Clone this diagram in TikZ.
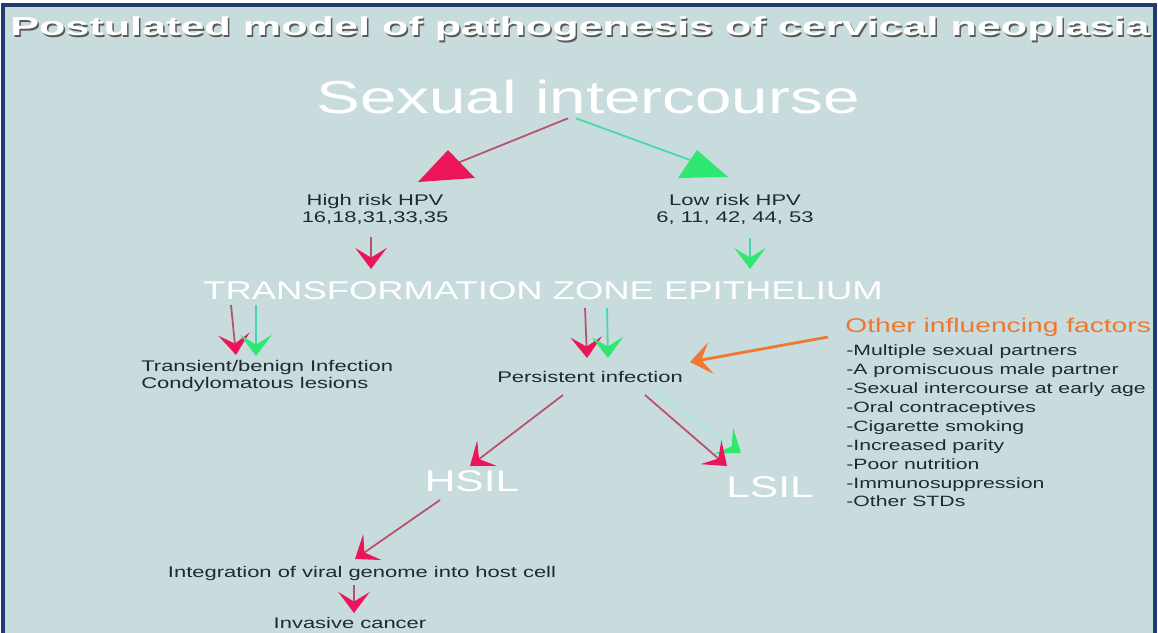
\documentclass[tikz,border=0pt]{standalone}
\usepackage{fontspec}
\setmainfont{Liberation Sans}[FakeStretch=1.42]
\newfontfamily\titlefont{Liberation Sans}[FakeStretch=1.66]
\usetikzlibrary{arrows.meta}

\definecolor{slide}{HTML}{C9DCDD}
\definecolor{framecol}{HTML}{1F3B70}
\definecolor{hotred}{HTML}{EC1559}
\definecolor{hotgreen}{HTML}{2EE872}
\definecolor{redline}{HTML}{B8506E}
\definecolor{greenline}{HTML}{45D9A8}
\definecolor{orangey}{HTML}{F0772F}
\definecolor{ink}{HTML}{1E2A30}

\tikzset{
  smalltext/.style={text=ink, inner sep=0pt, align=center,
    font=\fontsize{8.8}{9.7}\selectfont},
  whitetext/.style={text=white, inner sep=0pt},
  chev/.style={-{Stealth[length=12pt, width=18pt, inset=5.5pt, color=#1]}},
  redarr/.style={draw=redline, line width=1pt, chev=hotred},
  greenarr/.style={draw=greenline, line width=1pt, chev=hotgreen},
  orangearr/.style={draw=orangey, line width=1.6pt, chev=orangey},
}

\begin{document}
\begin{tikzpicture}[x=0.02cm, y=-0.02cm]
\useasboundingbox (0,0) rectangle (1158,632);

% background and frame
\fill[slide] (3,5) rectangle (1155,700);
\draw[framecol, line width=2pt] (3,5) rectangle (1155,700);

% title
\node[text=black!65, inner sep=0pt, font=\titlefont\bfseries\fontsize{14.8}{16}\selectfont]
  (titleshadow) at (581.5,30.5) {Postulated model of pathogenesis of cervical neoplasia};
\node[whitetext, font=\titlefont\bfseries\fontsize{14.8}{16}\selectfont]
  (title) at (580,29) {Postulated model of pathogenesis of cervical neoplasia};

\node[whitetext, font=\fontsize{26.3}{29}\selectfont] (sex) at (588,97) {Sexual intercourse};

\node[smalltext] (hr) at (375,209) {High risk HPV\\16,18,31,33,35};
\node[smalltext] (lr) at (735,209) {Low risk HPV\\6, 11, 42, 44, 53};

\node[whitetext, font=\fontsize{14.6}{16}\selectfont] (tze) at (543,291) {TRANSFORMATION ZONE EPITHELIUM};

\node[smalltext, align=left, anchor=west] (trans) at (141,376) {Transient/benign Infection\\Condylomatous lesions};
\node[smalltext] (pers) at (590,377) {Persistent infection};

\node[text=orangey, inner sep=0pt, anchor=west, font=\fontsize{11.3}{13}\selectfont] (other) at (845,327) {Other influencing factors};
\node[smalltext, align=left, anchor=north west, font=\fontsize{8.5}{10.8}\selectfont] (factors) at (846,344)
  {-Multiple sexual partners\\-A promiscuous male partner\\-Sexual intercourse at early age\\-Oral contraceptives\\-Cigarette smoking\\-Increased parity\\-Poor nutrition\\-Immunosuppression\\-Other STDs};

\node[whitetext, font=\fontsize{17}{19}\selectfont] (hsil) at (472,481) {HSIL};
\node[whitetext, font=\fontsize{17}{19}\selectfont] (lsil) at (770,487) {LSIL};

\node[smalltext] (integ) at (362,573) {Integration of viral genome into host cell};
\node[smalltext] (inv) at (350,623) {Invasive cancer};

% big heads from the top
\coordinate (hrhead) at (455,164);
\coordinate (lrhead) at (690,160);
\draw[redline, line width=1pt] (sex.south) ++(-20,4) -- (hrhead);
\draw[greenline, line width=1pt] (sex.south) ++(-12,4) -- (lrhead);
\fill[hotred] (418,182) -- (448,150) -- (475,178) -- cycle;
\fill[hotgreen] (678,178) -- (697,150) -- (728,177) -- cycle;

% down to the zone
\draw[redarr] (371,237) -- (371,269);
\draw[greenarr] (750,238) -- (750,269);

% zone to infections
\draw[redarr] (231,305) -- (236,355);
\draw[greenarr] (256,305) -- (256,356);
\draw[redarr] (585,308) -- (587,358);
\draw[greenarr] (607,308) -- (608,358);

% cofactors
\draw[orangearr] (828,337) -- (690,362);

% persistent infection to lesions
\draw[redarr] (563,395) -- (470,466);
\draw[greenarr, draw=greenline!50] (656,392) -- (741,453);
\draw[redarr] (645,395) -- (727,466);

% HSIL to cancer
\draw[redarr] (440,500) -- (355,559);
\draw[redarr] (354,585) -- (354,613);

\end{tikzpicture}
\end{document}
